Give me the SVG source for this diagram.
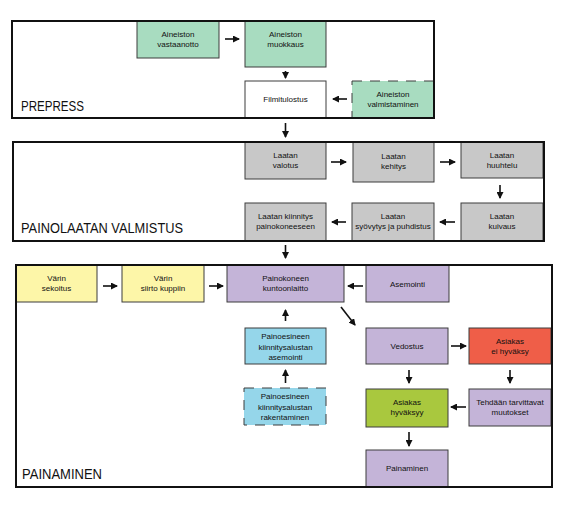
<svg xmlns="http://www.w3.org/2000/svg" width="566" height="510" viewBox="0 0 566 510">
<style>
.box{stroke:#3c3c3c;stroke-width:1}
.g{fill:#a8dcc0}.gr{fill:#c8c8c8}.y{fill:#fdf6a8}.p{fill:#c4b4d8}.b{fill:#95d6ea}.r{fill:#ef5e48}.l{fill:#a9c83e}.w{fill:#ffffff}
.dash{stroke-dasharray:10,8}
.frame{fill:none;stroke:#111;stroke-width:2}
text{font-family:"Liberation Sans",Arial,sans-serif;fill:#111}
.t{font-size:8px;text-anchor:middle}
.lab{font-size:14px}
.c line{stroke:#111;stroke-width:1.6}
</style>
<defs>
<marker id="ah" markerUnits="userSpaceOnUse" markerWidth="7" markerHeight="7" refX="6" refY="3.5" orient="auto">
<path d="M0,0 L7,3.5 L0,7 z" fill="#111"/>
</marker>
</defs>
<rect width="566" height="510" fill="#fff"/>

<!-- PREPRESS -->
<g id="n-vastaanotto"><rect class="box g" x="137" y="21" width="82" height="37"/><text class="t" x="178" y="37">Aineiston</text><text class="t" x="178" y="47">vastaanotto</text></g>
<g id="n-muokkaus"><rect class="box g" x="245" y="21" width="81" height="46"/><text class="t" x="285.5" y="37">Aineiston</text><text class="t" x="285.5" y="47">muokkaus</text></g>
<g id="n-filmitulostus"><rect class="box w" x="245" y="81" width="81" height="37"/><text class="t" x="285.5" y="102">Filmitulostus</text></g>
<g id="n-valmistaminen"><rect class="box g dash" x="352" y="81" width="82" height="37"/><text class="t" x="393" y="97">Aineiston</text><text class="t" x="393" y="107">valmistaminen</text></g>
<g id="f-prepress"><rect class="frame" x="12" y="21" width="422" height="97"/><text class="lab" x="21" y="111" textLength="63" lengthAdjust="spacingAndGlyphs">PREPRESS</text></g>

<!-- PAINOLAATAN VALMISTUS -->
<g id="n-valotus"><rect class="box gr" x="245" y="142" width="81" height="37"/><text class="t" x="285.5" y="158">Laatan</text><text class="t" x="285.5" y="168">valotus</text></g>
<g id="n-kehitys"><rect class="box gr" x="353" y="142" width="81" height="40"/><text class="t" x="393.5" y="159">Laatan</text><text class="t" x="393.5" y="169">kehitys</text></g>
<g id="n-huuhtelu"><rect class="box gr" x="461" y="142" width="82" height="36"/><text class="t" x="502" y="158">Laatan</text><text class="t" x="502" y="168">huuhtelu</text></g>
<g id="n-kuivaus"><rect class="box gr" x="461" y="203" width="82" height="38"/><text class="t" x="502" y="219">Laatan</text><text class="t" x="502" y="229">kuivaus</text></g>
<g id="n-syovytys"><rect class="box gr" x="352" y="203" width="82" height="38"/><text class="t" x="393" y="219">Laatan</text><text class="t" x="393" y="229">syövytys ja puhdistus</text></g>
<g id="n-kiinnitys"><rect class="box gr" x="245" y="203" width="81" height="38"/><text class="t" x="285.5" y="219">Laatan kiinnitys</text><text class="t" x="285.5" y="229">painokoneeseen</text></g>
<g id="f-painolaatan"><rect class="frame" x="13" y="142" width="531" height="99"/><text class="lab" x="21" y="233" textLength="162" lengthAdjust="spacingAndGlyphs">PAINOLAATAN VALMISTUS</text></g>

<!-- PAINAMINEN -->
<g id="n-sekoitus"><rect class="box y" x="16" y="265" width="81" height="37"/><text class="t" x="56.5" y="281">Värin</text><text class="t" x="56.5" y="291">sekoitus</text></g>
<g id="n-siirto"><rect class="box y" x="122" y="265" width="82" height="37"/><text class="t" x="163" y="281">Värin</text><text class="t" x="163" y="291">siirto kuppiin</text></g>
<g id="n-kuntoonlaitto"><rect class="box p" x="227" y="265" width="117" height="37"/><text class="t" x="285.5" y="281">Painokoneen</text><text class="t" x="285.5" y="291">kuntoonlaitto</text></g>
<g id="n-asemointi"><rect class="box p" x="366" y="265" width="83" height="37"/><text class="t" x="407.5" y="287">Asemointi</text></g>
<g id="n-pe-asemointi"><rect class="box b" x="245" y="328" width="81" height="36"/><text class="t" x="285.5" y="339">Painoesineen</text><text class="t" x="285.5" y="349.5">kiinnitysalustan</text><text class="t" x="285.5" y="360">asemointi</text></g>
<g id="n-vedostus"><rect class="box p" x="366" y="328" width="82" height="36"/><text class="t" x="407" y="349">Vedostus</text></g>
<g id="n-ei-hyvaksy"><rect class="box r" x="469" y="328" width="82" height="36"/><text class="t" x="510" y="344">Asiakas</text><text class="t" x="510" y="354">ei hyväksy</text></g>
<g id="n-pe-rakentaminen"><rect class="box b dash" x="244" y="388" width="82" height="37"/><text class="t" x="285" y="399">Painoesineen</text><text class="t" x="285" y="409.5">kiinnitysalustan</text><text class="t" x="285" y="420">rakentaminen</text></g>
<g id="n-hyvaksyy"><rect class="box l" x="366" y="389" width="82" height="38"/><text class="t" x="407" y="405">Asiakas</text><text class="t" x="407" y="415">hyväksyy</text></g>
<g id="n-muutokset"><rect class="box p" x="469" y="389" width="82" height="37"/><text class="t" x="510" y="405">Tehdään tarvittavat</text><text class="t" x="510" y="415">muutokset</text></g>
<g id="n-painaminen"><rect class="box p" x="366" y="450" width="82" height="37"/><text class="t" x="407" y="471">Painaminen</text></g>
<g id="f-painaminen"><rect class="frame" x="16" y="265" width="536" height="222"/><text class="lab" x="22" y="479" textLength="80" lengthAdjust="spacingAndGlyphs">PAINAMINEN</text></g>

<g id="connectors" class="c">
<line x1="225" y1="39" x2="239" y2="39" marker-end="url(#ah)"/>
<line x1="285.5" y1="71" x2="285.5" y2="78" marker-end="url(#ah)"/>
<line x1="347" y1="99" x2="333" y2="99" marker-end="url(#ah)"/>
<line x1="285.5" y1="123" x2="285.5" y2="137" marker-end="url(#ah)"/>
<line x1="331" y1="162" x2="346" y2="162" marker-end="url(#ah)"/>
<line x1="440" y1="162" x2="455" y2="162" marker-end="url(#ah)"/>
<line x1="500" y1="185" x2="500" y2="198" marker-end="url(#ah)"/>
<line x1="455" y1="222" x2="440" y2="222" marker-end="url(#ah)"/>
<line x1="346" y1="222" x2="332" y2="222" marker-end="url(#ah)"/>
<line x1="285.5" y1="245" x2="285.5" y2="258" marker-end="url(#ah)"/>
<line x1="103" y1="286" x2="117" y2="286" marker-end="url(#ah)"/>
<line x1="209" y1="286" x2="223" y2="286" marker-end="url(#ah)"/>
<line x1="363" y1="286" x2="348" y2="286" marker-end="url(#ah)"/>
<line x1="341" y1="307" x2="355" y2="325" marker-end="url(#ah)"/>
<line x1="285.5" y1="321" x2="285.5" y2="310" marker-end="url(#ah)"/>
<line x1="285.5" y1="383" x2="285.5" y2="370" marker-end="url(#ah)"/>
<line x1="451" y1="346" x2="466" y2="346" marker-end="url(#ah)"/>
<line x1="409" y1="370" x2="409" y2="383" marker-end="url(#ah)"/>
<line x1="510" y1="370" x2="510" y2="383" marker-end="url(#ah)"/>
<line x1="466" y1="407" x2="451" y2="407" marker-end="url(#ah)"/>
<line x1="409" y1="432" x2="409" y2="446" marker-end="url(#ah)"/>
</g>
</svg>
